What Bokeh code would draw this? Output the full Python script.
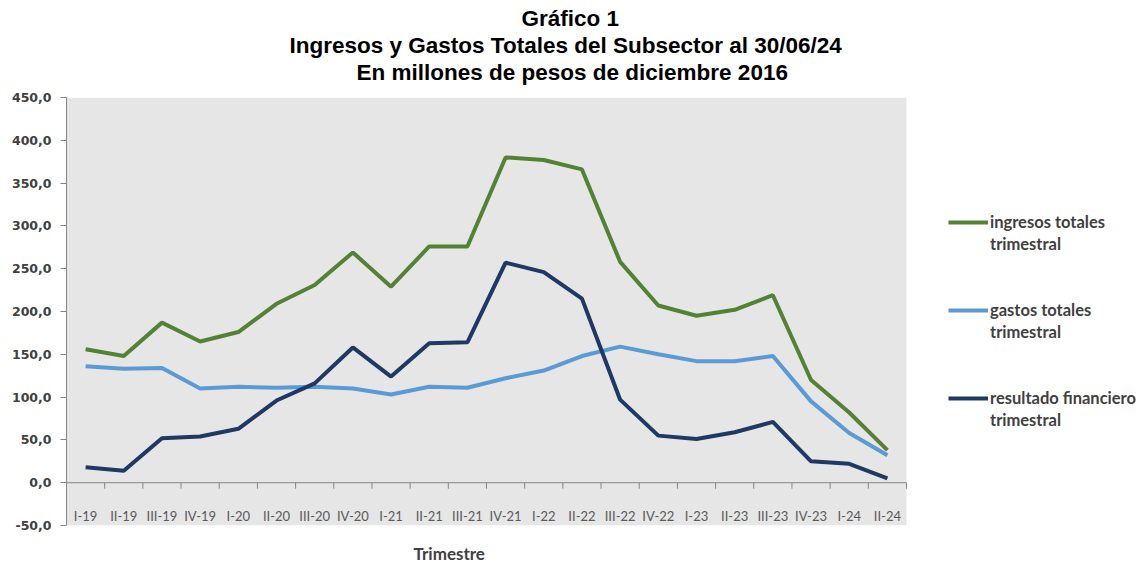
from bokeh.plotting import figure
from bokeh.models import (ColumnDataSource, Range1d, LinearAxis, FixedTicker,
                          BoxAnnotation, Legend, LegendItem, Title)
from bokeh.core.properties import value
from bokeh.embed import file_html
from bokeh.resources import INLINE

categories = ["I-19", "II-19", "III-19", "IV-19", "I-20", "II-20", "III-20", "IV-20",
              "I-21", "II-21", "III-21", "IV-21", "I-22", "II-22", "III-22", "IV-22",
              "I-23", "II-23", "III-23", "IV-23", "I-24", "II-24"]
ingresos = [156, 148, 187, 165, 176, 209, 231, 269, 229, 276, 276, 380,
            377, 366, 258, 207, 195, 202, 219, 120, 82, 38]
gastos = [136, 133, 134, 110, 112, 111, 112, 110, 103, 112, 111, 122,
          131, 148, 159, 150, 142, 142, 148, 95, 58, 32]
resultado = [18, 14, 52, 54, 63, 96, 116, 158, 124, 163, 164, 257,
             246, 215, 97, 55, 51, 59, 71, 25, 22, 5]
y_ticks = [-50, 0, 50, 100, 150, 200, 250, 300, 350, 400, 450]
title_lines = ["Gráfico 1",
               "Ingresos y Gastos Totales del Subsector al 30/06/24",
               "En millones de pesos de diciembre 2016"]
series_labels = [("ingresos totales", "trimestral"),
                 ("gastos totales", "trimestral"),
                 ("resultado financiero", "trimestral")]
colors = ["#548235", "#5b9bd5", "#1f3864"]

W, H = 1140, 563
LEFT, TOP = 66, 97
FRAME_BOTTOM = 526
RIGHT = 0
BOTTOM = H - FRAME_BOTTOM
frame_w = W - LEFT - RIGHT
frame_h = FRAME_BOTTOM - TOP
data_w = 840
n = len(categories)
x_end = n * frame_w / data_w
y0, y1 = -50, 450
px_y = (y1 - y0) / frame_h

xs = [i + 0.5 for i in range(n)]
src = ColumnDataSource(dict(x=xs, cat=categories, ing=ingresos, gas=gastos, res=resultado,
                            ly=[-38.5] * n))

p = figure(width=W, height=H, output_backend="svg", toolbar_location=None,
           x_range=Range1d(0, x_end), y_range=Range1d(y0, y1),
           min_border_left=LEFT, min_border_right=RIGHT, min_border_top=TOP,
           min_border_bottom=BOTTOM, x_axis_type=None, y_axis_type=None)
p.outline_line_color = None
p.background_fill_color = "white"
p.border_fill_color = "white"
p.xgrid.visible = False
p.ygrid.visible = False

p.add_layout(BoxAnnotation(left=0, right=n, fill_color="#e6e6e6", fill_alpha=1,
                           line_color=None, level="underlay"))

# y axis
yax = LinearAxis(ticker=FixedTicker(ticks=y_ticks),
                 major_label_overrides={v: f"{v:.1f}".replace(".", ",") for v in y_ticks})
yax.axis_line_color = "#868686"
yax.major_tick_line_color = "#868686"
yax.minor_tick_line_color = None
yax.major_tick_in = 0
yax.major_tick_out = 6
yax.major_label_standoff = 9
yax.major_label_text_font = "DejaVu Sans"
yax.major_label_text_font_style = "bold"
yax.major_label_text_font_size = "12.5px"
yax.major_label_text_color = "#404040"
p.add_layout(yax, "left")

# horizontal axis line at zero with ticks at category boundaries
bounds = list(range(n + 1))
tick_len = 6 * px_y
p.segment(x0=[0], y0=[0], x1=[n], y1=[0], line_color="#868686", line_width=1)
p.segment(x0=bounds, y0=[0] * len(bounds), x1=bounds, y1=[-tick_len] * len(bounds),
          line_color="#868686", line_width=1)

p.text(x="x", y="ly", text="cat", source=src, text_align="center",
       text_baseline="middle", text_font=value("Lato"), text_font_size="13px",
       text_color="#595959")

r1 = p.line("x", "ing", source=src, line_color=colors[0], line_width=4)
r2 = p.line("x", "gas", source=src, line_color=colors[1], line_width=4)
r3 = p.line("x", "res", source=src, line_color=colors[2], line_width=4)
blank = p.line(x=[], y=[], line_alpha=0)

items = []
for k, (r, (a, b)) in enumerate(zip([r1, r2, r3], series_labels)):
    items.append(LegendItem(label=a, renderers=[r]))
    items.append(LegendItem(label=b, renderers=[blank]))
    if k < 2:
        items.append(LegendItem(label=" ", renderers=[blank]))
        items.append(LegendItem(label="  ", renderers=[blank]))

ITEM_H = 22
legend_h = ITEM_H * len(items)
legend_top = 212
legend = Legend(items=items, location=(948 - LEFT, FRAME_BOTTOM - legend_top - legend_h),
                padding=0, margin=0, spacing=0, glyph_width=40, glyph_height=ITEM_H,
                label_height=ITEM_H, label_standoff=2, border_line_color=None,
                background_fill_alpha=0, label_text_font="Lato",
                label_text_font_style="bold", label_text_font_size="16.5px",
                label_text_color="#404040")
p.add_layout(legend, "center")

# title lines (added from nearest-frame outward), left-aligned with offsets
title_offsets = [455, 223, 290]
p.add_layout(Title(text=" ", text_font_size="8px", standoff=2), "above")
for t, off in zip(reversed(title_lines), reversed(title_offsets)):
    p.add_layout(Title(text=t, align="left", offset=off, text_font="Liberation Sans",
                       text_font_style="bold", text_font_size="22.5px",
                       text_color="black", standoff=0), "above")

# spacer then x-axis caption below
p.add_layout(Title(text=" ", text_font_size="10px", standoff=2), "below")
p.add_layout(Title(text="Trimestre", align="left", offset=347, text_font="Lato",
                   text_font_style="bold", text_font_size="17px",
                   text_color="#404040", standoff=0), "below")

open("out.html", "w").write(file_html(p, INLINE))
